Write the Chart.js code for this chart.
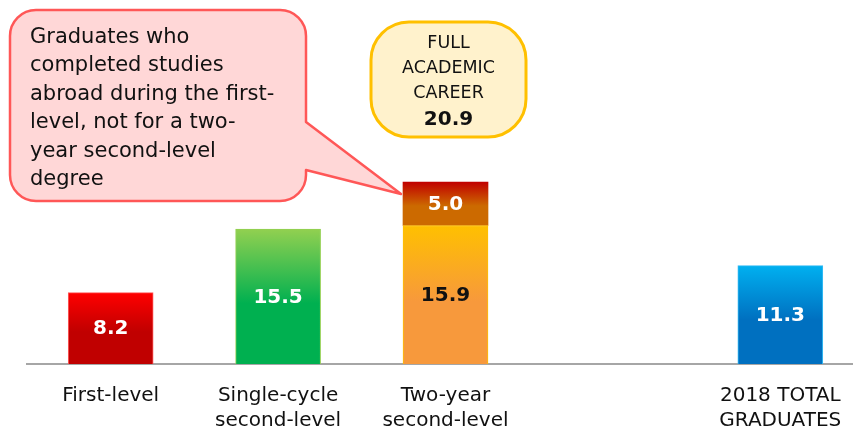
<!DOCTYPE html>
<html>
<head>
<meta charset="utf-8">
<script src="https://cdn.jsdelivr.net/npm/chart.js@4.4.0/dist/chart.umd.min.js"></script>
<style>
  html, body { margin: 0; padding: 0; background: #ffffff; overflow: hidden; }
  #wrap { position: relative; width: 864px; height: 452px; }
</style>
</head>
<body>
<div id="wrap"><canvas id="c"></canvas></div>
<script>
// ---- data ----
const categories = [["First-level"], ["Single-cycle", "second-level"], ["Two-year", "second-level"], "", ["2018 TOTAL", "GRADUATES"]];
const baseValues = [8.2, 15.5, 15.9, null, 11.3];
const extraValues = [null, null, 5.0, null, null];
const fullCareerValue = 20.9;
const noteText = ["Graduates who", "completed studies", "abroad during the first-", "level, not for a two-", "year second-level", "degree"];
const careerText = ["FULL", "ACADEMIC", "CAREER"];

// ---- styles ----
const baseGrad = [["#ff0000", "#c00000"], ["#92d050", "#00b050"], ["#ffc000", "#f7993c"], null, ["#00b0f0", "#0070c0"]];
const baseBorder = ["#ff5a5a", "#92d050", "#ffc000", null, "#33bbf5"];
const baseLabelColor = ["#ffffff", "#ffffff", "#111111", null, "#ffffff"];
const extraGrad = ["#c00000", "#cc6a00"];
const FONT = "'DejaVu Sans', sans-serif";

const baseStarts = baseValues.map(() => 0);
const extraStarts = baseValues.map((v, i) => extraValues[i] == null ? null : v);
const extraTops = baseValues.map((v, i) => extraValues[i] == null ? null : v + extraValues[i]);

function barGradient(c, grads, startVals, endVals) {
  const chart = c.chart;
  const i = c.dataIndex;
  if (i == null) return "rgba(0,0,0,0)";
  const g = Array.isArray(grads[0]) ? grads[i] : grads;
  if (!g || endVals[i] == null) return "rgba(0,0,0,0)";
  const area = chart.chartArea;
  if (!area) return g[1];
  const y = chart.scales.y;
  const top = y.getPixelForValue(endVals[i]);
  const bot = y.getPixelForValue(startVals[i] || 0);
  if (!isFinite(top) || !isFinite(bot)) return g[1];
  const gr = chart.ctx.createLinearGradient(0, top, 0, bot);
  gr.addColorStop(0, g[0]);
  gr.addColorStop(0.55, g[1]);
  gr.addColorStop(1, g[1]);
  return gr;
}

const overlay = {
  id: "overlay",
  afterDatasetsDraw(chart) {
    const ctx = chart.ctx;
    // value labels
    ctx.save();
    ctx.textAlign = "center";
    ctx.textBaseline = "middle";
    ctx.font = "bold 20px " + FONT;
    chart.data.datasets.forEach((ds, di) => {
      const meta = chart.getDatasetMeta(di);
      meta.data.forEach((el, i) => {
        const v = ds.data[i];
        if (v == null) return;
        const p = el.getProps(["x", "y", "base"], true);
        ctx.fillStyle = di === 0 ? baseLabelColor[i] : "#ffffff";
        ctx.fillText(v.toFixed(1), p.x, (p.y + p.base) / 2 + 1);
      });
    });
    ctx.restore();

    // pink callout pointing at extra segment
    const extraMeta = chart.getDatasetMeta(1);
    const target = extraMeta.data[2].getProps(["x", "y", "width"], true);
    const tipX = target.x - target.width / 2 - 2, tipY = target.y + 12;
    const x0 = 10, y0 = 10, x1 = 306, y1 = 201, r = 26;
    ctx.save();
    ctx.beginPath();
    ctx.moveTo(x0 + r, y0);
    ctx.lineTo(x1 - r, y0);
    ctx.arcTo(x1, y0, x1, y0 + r, r);
    ctx.lineTo(x1, 122);
    ctx.lineTo(tipX, tipY);
    ctx.lineTo(x1, 170);
    ctx.lineTo(x1, y1 - r);
    ctx.arcTo(x1, y1, x1 - r, y1, r);
    ctx.lineTo(x0 + r, y1);
    ctx.arcTo(x0, y1, x0, y1 - r, r);
    ctx.lineTo(x0, y0 + r);
    ctx.arcTo(x0, y0, x0 + r, y0, r);
    ctx.closePath();
    ctx.fillStyle = "#ffd7d7";
    ctx.fill();
    ctx.lineWidth = 2.5;
    ctx.strokeStyle = "#ff5757";
    ctx.lineJoin = "round";
    ctx.stroke();
    ctx.fillStyle = "#111111";
    ctx.font = "21px " + FONT;
    ctx.textAlign = "left";
    ctx.textBaseline = "alphabetic";
    noteText.forEach((t, k) => ctx.fillText(t, 30, 43 + k * 28.4));
    ctx.restore();

    // yellow callout
    const bx0 = 371, by0 = 22, bx1 = 526, by1 = 137, br = 38;
    ctx.save();
    ctx.beginPath();
    ctx.moveTo(bx0 + br, by0);
    ctx.lineTo(bx1 - br, by0);
    ctx.arcTo(bx1, by0, bx1, by0 + br, br);
    ctx.lineTo(bx1, by1 - br);
    ctx.arcTo(bx1, by1, bx1 - br, by1, br);
    ctx.lineTo(bx0 + br, by1);
    ctx.arcTo(bx0, by1, bx0, by1 - br, br);
    ctx.lineTo(bx0, by0 + br);
    ctx.arcTo(bx0, by0, bx0 + br, by0, br);
    ctx.closePath();
    ctx.fillStyle = "#fff2cc";
    ctx.fill();
    ctx.lineWidth = 3;
    ctx.strokeStyle = "#ffc000";
    ctx.stroke();
    ctx.fillStyle = "#111111";
    ctx.textAlign = "center";
    ctx.textBaseline = "alphabetic";
    ctx.font = "17.5px " + FONT;
    const cx = (bx0 + bx1) / 2;
    careerText.forEach((t, k) => ctx.fillText(t, cx, 48 + k * 25));
    ctx.font = "bold 20px " + FONT;
    ctx.fillText(fullCareerValue.toFixed(1), cx, 125);
    ctx.restore();
  }
};

new Chart(document.getElementById("c"), {
  type: "bar",
  data: {
    labels: categories,
    datasets: [
      {
        data: baseValues,
        backgroundColor: c => barGradient(c, baseGrad, baseStarts, baseValues),
        borderColor: c => (c.dataIndex != null && baseBorder[c.dataIndex]) || "rgba(0,0,0,0)",
        borderWidth: 1,
        borderSkipped: "bottom",
        barThickness: 85,
        stack: "s"
      },
      {
        data: extraValues,
        backgroundColor: c => barGradient(c, extraGrad, extraStarts, extraTops),
        borderWidth: 0,
        barThickness: 85,
        stack: "s"
      }
    ]
  },
  options: {
    responsive: true,
    maintainAspectRatio: false,
    animation: false,
    layout: { padding: { left: 27, right: 0, top: 0, bottom: 0 } },
    plugins: { legend: { display: false }, tooltip: { enabled: false } },
    scales: {
      x: {
        stacked: true,
        grid: { display: false, drawTicks: false },
        border: { display: true, color: "#a6a6a6", width: 2 },
        ticks: { color: "#111111", font: { family: FONT, size: 20, lineHeight: 1.25 }, padding: 19, maxRotation: 0, autoSkip: false }
      },
      y: {
        stacked: true,
        display: false,
        min: 0,
        max: 41.8
      }
    }
  },
  plugins: [overlay]
});
</script>
</body>
</html>
